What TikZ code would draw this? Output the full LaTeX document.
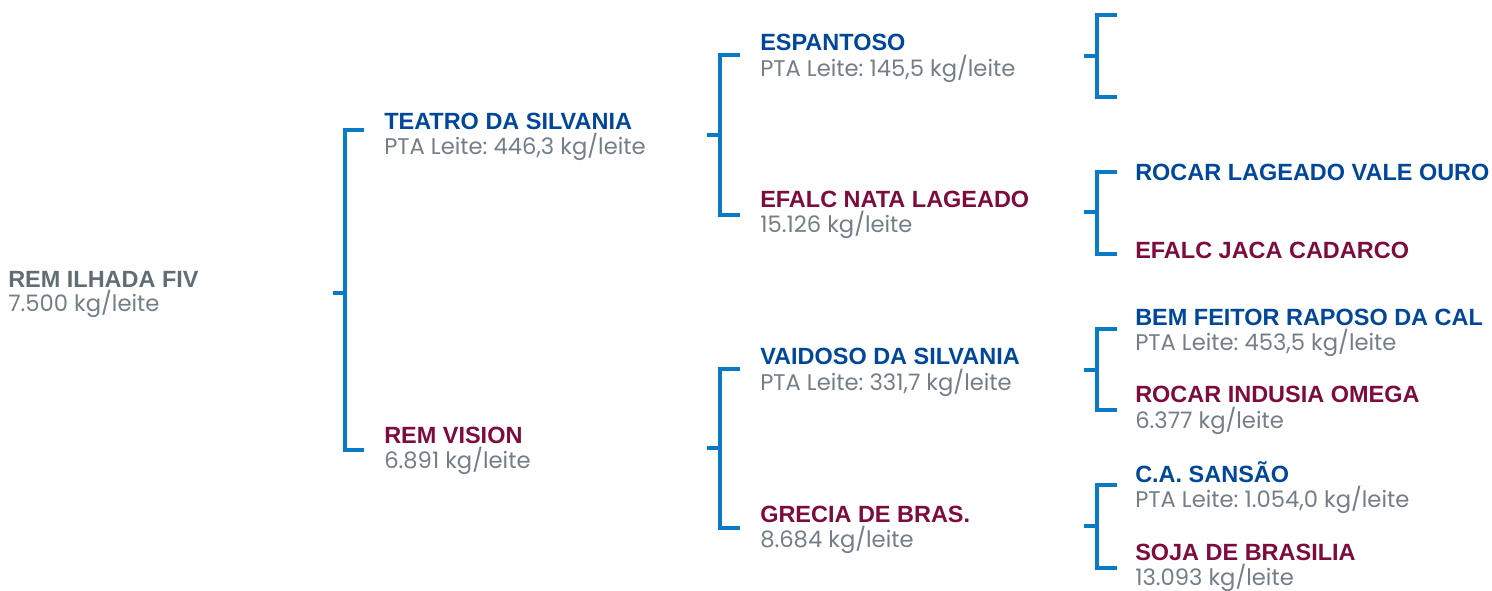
\documentclass[tikz,border=0pt]{standalone}
\usepackage{fontspec}
\usetikzlibrary{calc}
\frenchspacing
\newfontfamily\namefont{Liberation Sans}
\newfontfamily\valfont{Poppins}
\definecolor{nblue}{HTML}{00479A}
\definecolor{nred}{HTML}{7E0B3E}
\definecolor{ngray}{HTML}{616D75}
\definecolor{vgray}{HTML}{737E86}
\definecolor{bblue}{HTML}{0A79C6}
\tikzset{
  nm/.style={anchor=base west, inner sep=0pt, font=\namefont\bfseries\fontsize{17.6pt}{20pt}\selectfont},
  nmb/.style={nm, text=nblue},
  nmr/.style={nm, text=nred},
  nmg/.style={nm, text=ngray},
  vl/.style={anchor=base west, inner sep=0pt, text=vgray, font=\valfont\fontsize{17pt}{20pt}\selectfont},
  brk/.style={draw=bblue, line width=2.4pt}
}
\begin{document}
\begin{tikzpicture}[x=0.75pt,y=-0.75pt]
\useasboundingbox (0,0) rectangle (1492,590);
% level 0
\node[nmg] (p0) at (8,287) {REM ILHADA FIV};
\node[vl] (p0v) at (8,311) {7.500 kg/leite};
% level 1
\node[nmb] (p1) at (384,129) {TEATRO DA SILVANIA};
\node[vl] (p1v) at (384,154) {PTA Leite: 446,3 kg/leite};
\node[nmr] (p2) at (384,443) {REM VISION};
\node[vl] (p2v) at (384,468) {6.891 kg/leite};
% level 2
\node[nmb] (p3) at (760,50) {ESPANTOSO};
\node[vl] (p3v) at (760,76) {PTA Leite: 145,5 kg/leite};
\node[nmr] (p4) at (760,207) {EFALC NATA LAGEADO};
\node[vl] (p4v) at (760,232) {15.126 kg/leite};
\node[nmb] (p5) at (760,364) {VAIDOSO DA SILVANIA};
\node[vl] (p5v) at (760,390) {PTA Leite: 331,7 kg/leite};
\node[nmr] (p6) at (760,522) {GRECIA DE BRAS.};
\node[vl] (p6v) at (760,547) {8.684 kg/leite};
% level 3
\node[nmb] (p9) at (1135,180) {ROCAR LAGEADO VALE OURO};
\node[nmr] (p10) at (1135,258) {EFALC JACA CADARCO};
\node[nmb] (p11) at (1135,325) {BEM FEITOR RAPOSO DA CAL};
\node[vl] (p11v) at (1135,350) {PTA Leite: 453,5 kg/leite};
\node[nmr] (p12) at (1135,402) {ROCAR INDUSIA OMEGA};
\node[vl] (p12v) at (1135,428) {6.377 kg/leite};
\node[nmb] (p13) at (1135,482) {C.A. SANSÃO};
\node[vl] (p13v) at (1135,507) {PTA Leite: 1.054,0 kg/leite};
\node[nmr] (p14) at (1135,560) {SOJA DE BRASILIA};
\node[vl] (p14v) at (1135,585) {13.093 kg/leite};
% bracket coordinates
\coordinate (b1s) at (333,293); \coordinate (b1t) at (345,130); \coordinate (b1b) at (345,450);
\coordinate (b2s) at (707,135); \coordinate (b2t) at (720,55);  \coordinate (b2b) at (720,215);
\coordinate (b3s) at (707,448); \coordinate (b3t) at (720,369); \coordinate (b3b) at (720,528);
\coordinate (b4s) at (1084,56); \coordinate (b4t) at (1097,15); \coordinate (b4b) at (1097,97);
\coordinate (b5s) at (1084,212); \coordinate (b5t) at (1097,172); \coordinate (b5b) at (1097,254);
\coordinate (b6s) at (1084,370); \coordinate (b6t) at (1097,329); \coordinate (b6b) at (1097,410);
\coordinate (b7s) at (1084,526); \coordinate (b7t) at (1097,485); \coordinate (b7b) at (1097,568);
% brackets
\draw[brk] ($(b1t)+(19,0)$) -- (b1t) -- (b1b) -- ++(19,0);
\draw[brk] (b1s) -- (b1s -| b1t);
\draw[brk] ($(b2t)+(20,0)$) -- (b2t) -- (b2b) -- ++(20,0);
\draw[brk] (b2s) -- (b2s -| b2t);
\draw[brk] ($(b3t)+(20,0)$) -- (b3t) -- (b3b) -- ++(20,0);
\draw[brk] (b3s) -- (b3s -| b3t);
\draw[brk] ($(b4t)+(20,0)$) -- (b4t) -- (b4b) -- ++(20,0);
\draw[brk] (b4s) -- (b4s -| b4t);
\draw[brk] ($(b5t)+(20,0)$) -- (b5t) -- (b5b) -- ++(20,0);
\draw[brk] (b5s) -- (b5s -| b5t);
\draw[brk] ($(b6t)+(20,0)$) -- (b6t) -- (b6b) -- ++(20,0);
\draw[brk] (b6s) -- (b6s -| b6t);
\draw[brk] ($(b7t)+(20,0)$) -- (b7t) -- (b7b) -- ++(20,0);
\draw[brk] (b7s) -- (b7s -| b7t);
\end{tikzpicture}
\end{document}
